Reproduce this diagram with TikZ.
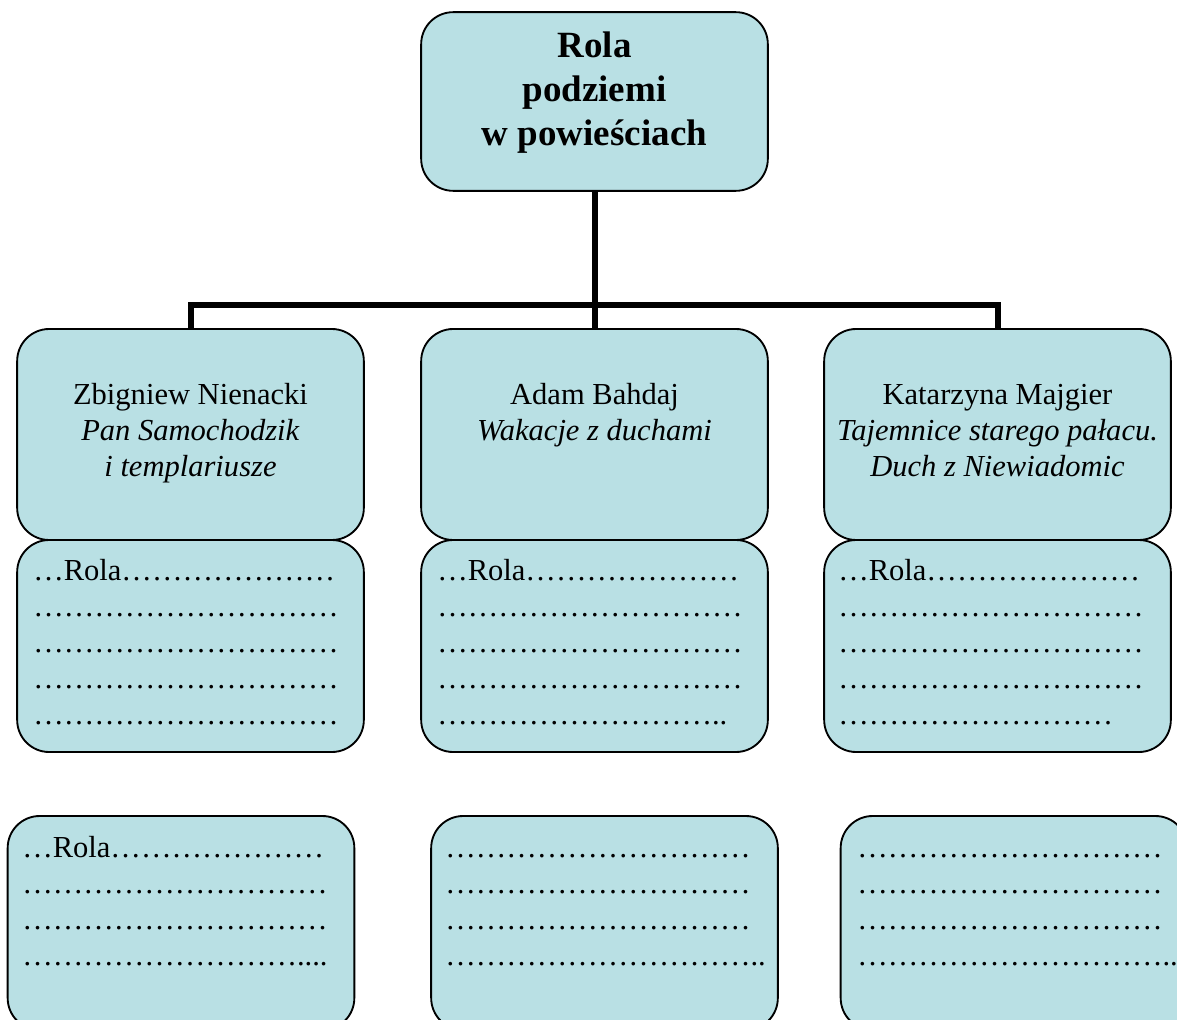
\documentclass[tikz,border=0pt]{standalone}
\usepackage{fontspec}
\setmainfont{Liberation Serif}
\definecolor{boxfill}{RGB}{185,224,228}
\newcommand\myTitleFont{\fontsize{27.75pt}{33pt}\selectfont\bfseries}
\newcommand\myBodyFont{\fontsize{22.9pt}{27pt}\selectfont}
\begin{document}
\begin{tikzpicture}[x=0.75pt,y=-0.75pt,
  box/.style={draw=black, line width=1.4pt, fill=boxfill, rectangle,
    rounded corners=24pt, inner sep=0pt, minimum width=260pt, minimum height=#1},
  conn/.style={draw=black, line width=4.5pt},
  titletext/.style={inner sep=0pt, anchor=north, align=center, font=\myTitleFont},
  headtext/.style={inner sep=0pt, anchor=north, align=center, font=\myBodyFont},
  linestext/.style={inner sep=0pt, anchor=north west, align=left, font=\myBodyFont}]
\useasboundingbox (0,0) rectangle (1177,1020);
\clip (0,0) rectangle (1177,1020);

% connectors
\coordinate (j) at (594.5,305);

% boxes
\node[box=134pt] (top) at (594.5,101.5) {};
\node[box=158.25pt] (b1) at (190.5,434.5) {};
\node[box=158.25pt] (b2) at (594.5,434.5) {};
\node[box=158.25pt] (b3) at (997.5,434.5) {};
\node[box=159pt] (r1) at (190.5,646) {};
\node[box=159pt] (r2) at (594.5,646) {};
\node[box=159pt] (r3) at (997.5,646) {};
\node[box=160.5pt] (c1) at (181,923) {};
\node[box=160.5pt] (c2) at (604.5,923) {};
\node[box=160.5pt] (c3) at (1014,923) {};

\draw[conn] (top.south) -- (b2.north);
\draw[conn] (b1.north) |- (j) -| (b3.north);

% texts
\node[titletext] (ttop) at (594.5,26.2) {\strut Rola\\podziemi\\w powieściach};

\node[headtext] (tb1) at (190.5,378.8) {\strut Zbigniew Nienacki\\\textit{Pan Samochodzik}\\\textit{i templariusze}};
\node[headtext] (tb2) at (594.5,378.8) {\strut Adam Bahdaj\\\textit{Wakacje z duchami}};
\node[headtext] (tb3) at (997.5,378.8) {\strut Katarzyna Majgier\\\textit{Tajemnice starego pałacu.}\\\textit{Duch z Niewiadomic}};

\node[linestext] (tr1) at (33,555.5) {\strut …Rola…………………\\…………………………\\…………………………\\…………………………\\…………………………};
\node[linestext] (tr2) at (437,555.5) {\strut …Rola…………………\\…………………………\\…………………………\\…………………………\\………………………..};
\node[linestext] (tr3) at (838,555.5) {\strut …Rola…………………\\…………………………\\…………………………\\…………………………\\………………………};

\node[linestext] (tc1) at (22,832) {\strut …Rola…………………\\…………………………\\…………………………\\………………………....};
\node[linestext] (tc2) at (445,832) {\strut …………………………\\…………………………\\…………………………\\…………………………..};
\node[linestext] (tc3) at (857,832) {\strut …………………………\\…………………………\\…………………………\\…………………………..};
\end{tikzpicture}
\end{document}
